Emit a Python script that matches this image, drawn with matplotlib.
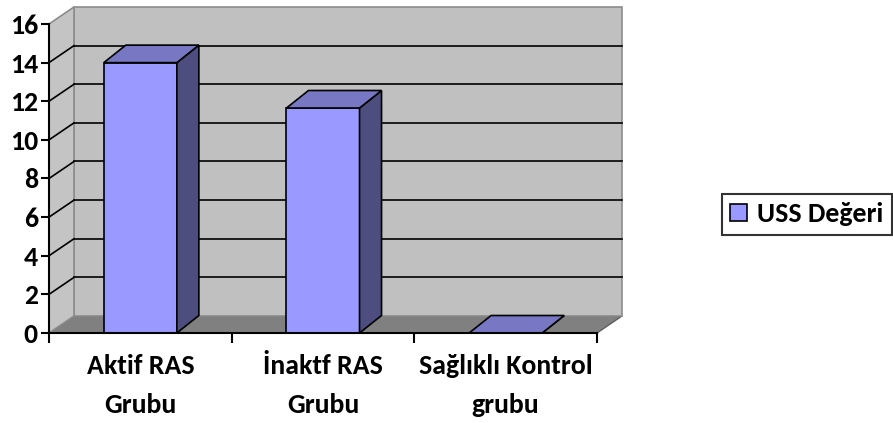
import matplotlib.pyplot as plt
import numpy as np
from matplotlib.patches import Polygon, Patch

# datos del grafico
categorias = ["Aktif RAS\nGrubu", "İnaktf RAS\nGrubu", "Sağlıklı Kontrol\ngrubu"]
valores = [14, 11.65, 0]
serie = "USS Değeri"
yticks = [0, 2, 4, 6, 8, 10, 12, 14, 16]

plt.rcParams['font.family'] = ['Carlito', 'DejaVu Sans']
plt.rcParams['font.weight'] = 'bold'
tam = 20

fig = plt.figure(figsize=(8.93, 4.23), dpi=100)
ax = fig.add_axes([49/893, 90/423, 548/893, 309/423])
ax.set_xlim(-0.5, 2.5)
ax.set_ylim(0, 16)

# profundidad 3D en unidades de datos
dx = 25 / (548 / 3)
dy = 17 / (309 / 16)
bdx = 22 / (548 / 3)
bdy = 17.5 / (309 / 16)
ancho = 0.4

x0, x1 = -0.5, 2.5
ymax = yticks[-1]

# suelo, pared trasera y pared lateral
ax.add_patch(Polygon([(x0, 0), (x1, 0), (x1 + dx, dy), (x0 + dx, dy)],
                     closed=True, facecolor='#808080', edgecolor='#606060', lw=1, clip_on=False, zorder=1))
ax.add_patch(Polygon([(x0 + dx, dy), (x1 + dx, dy), (x1 + dx, ymax + dy), (x0 + dx, ymax + dy)],
                     closed=True, facecolor='#c0c0c0', edgecolor='#8c8c8c', lw=1.2, clip_on=False, zorder=1))
ax.add_patch(Polygon([(x0, 0), (x0, ymax), (x0 + dx, ymax + dy), (x0 + dx, dy)],
                     closed=True, facecolor='#c4c4c4', edgecolor='#8c8c8c', lw=1.2, clip_on=False, zorder=1))

# lineas de cuadricula
for v in yticks[1:-1]:
    ax.plot([x0 + dx, x1 + dx], [v + dy, v + dy], color='black', lw=1.2, clip_on=False, zorder=2)
    ax.plot([x0, x0 + dx], [v, v + dy], color='black', lw=1.2, clip_on=False, zorder=2)

# barras
xs = np.arange(len(valores))
ax.bar(xs, valores, width=ancho, color='#9999ff', edgecolor='black', lw=1.2, zorder=3)
for x, v in zip(xs, valores):
    l, r = x - ancho / 2, x + ancho / 2
    lado = [(r, 0), (r, v), (r + bdx, v + bdy), (r + bdx, bdy)]
    tapa = [(l, v), (r, v), (r + bdx, v + bdy), (l + bdx, v + bdy)]
    ax.add_patch(Polygon(lado, closed=True, facecolor='#4d4d80', edgecolor='black', lw=1.2, clip_on=False, zorder=3))
    ax.add_patch(Polygon(tapa, closed=True, facecolor='#7777c4', edgecolor='black', lw=1.2, clip_on=False, zorder=3))

# ejes
for s in ['top', 'right']:
    ax.spines[s].set_visible(False)
for s in ['left', 'bottom']:
    ax.spines[s].set_linewidth(1.5)
    ax.spines[s].set_zorder(4)
ax.set_yticks(yticks)
ax.set_yticklabels([str(t) for t in yticks], fontsize=tam, fontweight='bold')
ax.tick_params(axis='y', direction='out', length=6, width=1.5, pad=2)
ax.set_xticks(xs)
ax.set_xticklabels(categorias, fontsize=tam, fontweight='bold', linespacing=1.75)
ax.tick_params(axis='x', which='major', length=0, pad=15)
ax.set_xticks([-0.5, 0.5, 1.5, 2.5], minor=True)
ax.tick_params(axis='x', which='minor', direction='out', length=7, width=1.5)
ax.set_facecolor('none')

# leyenda
leg = fig.legend(handles=[Patch(facecolor='#9999ff', edgecolor='black', lw=1.2, label=serie)],
                 loc='upper left', bbox_to_anchor=(722/893, 1 - 194/423),
                 frameon=True, fancybox=False, fontsize=tam, handlelength=0.6, handleheight=0.6,
                 handletextpad=0.36, borderpad=0.3, borderaxespad=0)
leg.get_frame().set_edgecolor('black')
leg.get_frame().set_linewidth(1.5)
for t in leg.get_texts():
    t.set_fontweight('bold')

fig.savefig('out.png', dpi=100)
